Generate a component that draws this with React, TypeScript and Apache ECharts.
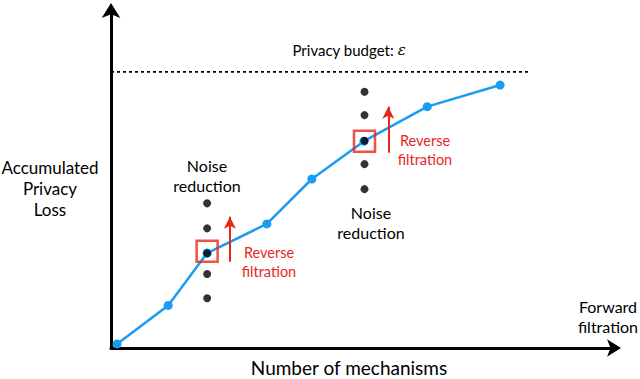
import React, { useEffect, useRef } from "react";
import * as echarts from "echarts";

// Curve of accumulated privacy loss vs number of mechanisms (abstract units 0..100)
const mechanisms = [1.2, 11.3, 19.0, 30.8, 39.7, 50.0, 62.5, 76.9];
const privacyLoss = [1.2, 12.6, 28.1, 36.7, 50.0, 61.2, 71.4, 77.8];

// Privacy budget line
const budgetLevel = 81.7;
const budgetEnd = 82.8;

// Noise-reduction dot columns
const leftNoiseX = 19.0;
const leftNoiseY = [42.8, 35.4, 28.0, 21.9, 14.7];
const rightNoiseX = 50.1;
const rightNoiseY = [75.8, 68.9, 61.3, 54.4, 47.0];

// Highlighted (boxed) points
const boxedX = [19.0, 50.1];
const boxedY = [28.6, 61.2];

// Reverse-filtration arrows: x, start y, tip y
const arrowX = [23.5, 54.8];
const arrowFrom = [25.5, 57.8];
const arrowTo = [38.8, 71.4];

const BLUE = "#1c9cf0";
const RED = "#e9261c";
const FONT = "Lato";

export default function App() {
  const ref = useRef<HTMLDivElement>(null);
  useEffect(() => {
    if (!ref.current) return;
    const chart = echarts.init(ref.current, null, { renderer: "svg" });
    const noiseDots: number[][] = [
      ...leftNoiseY.map((y) => [leftNoiseX, y]),
      ...rightNoiseY.map((y) => [rightNoiseX, y]),
    ];
    const textStyle = (extra: any) => ({
      fontFamily: FONT,
      fontSize: 16,
      fill: "#000",
      textAlign: "center",
      textVerticalAlign: "middle",
      lineHeight: 20,
      ...extra,
    });
    chart.setOption({
      animation: false,
      grid: { left: 111, top: 10, width: 506, height: 338 },
      xAxis: {
        type: "value",
        min: 0,
        max: 100,
        axisLine: {
          show: true,
          onZero: false,
          symbol: ["none", "arrow"],
          symbolSize: [13, 14],
          symbolOffset: [0, 4],
          lineStyle: { color: "#000", width: 3 },
        },
        axisTick: { show: false },
        axisLabel: { show: false },
        splitLine: { show: false },
      },
      yAxis: {
        type: "value",
        min: 0,
        max: 100,
        axisLine: {
          show: true,
          onZero: false,
          symbol: ["none", "arrow"],
          symbolSize: [14, 15],
          symbolOffset: [0, 7],
          lineStyle: { color: "#000", width: 3 },
        },
        axisTick: { show: false },
        axisLabel: { show: false },
        splitLine: { show: false },
      },
      series: [
        {
          type: "line",
          data: [
            [0, budgetLevel],
            [budgetEnd, budgetLevel],
          ],
          symbol: "none",
          lineStyle: { color: "#000", width: 1.6, type: [3, 3] },
          z: 1,
        },
        {
          type: "line",
          data: mechanisms.map((x, i) => [x, privacyLoss[i]]),
          symbol: "circle",
          symbolSize: 9,
          showAllSymbol: true,
          itemStyle: { color: BLUE },
          lineStyle: { color: BLUE, width: 2.5 },
          z: 2,
        },
        {
          type: "scatter",
          data: noiseDots,
          symbol: "circle",
          symbolSize: 8,
          itemStyle: { color: "#000" },
          z: 3,
        },
        {
          type: "scatter",
          data: boxedX.map((x, i) => [x, boxedY[i]]),
          symbol: "rect",
          symbolSize: 21,
          itemStyle: { color: "rgba(0,0,0,0)", borderColor: RED, borderWidth: 2.5 },
          z: 4,
          markLine: {
            silent: true,
            symbol: ["none", "arrow"],
            symbolSize: [9, 12],
            label: { show: false },
            lineStyle: { color: RED, width: 2, type: "solid" },
            data: arrowX.map((x, i) => [
              { coord: [x, arrowFrom[i]] },
              { coord: [x, arrowTo[i]] },
            ]),
          },
        },
      ],
      graphic: [
        {
          type: "text",
          style: {
            x: 349,
            y: 50,
            text: "{a|Privacy budget: }{e|ε}",
            textAlign: "center",
            textVerticalAlign: "middle",
            rich: {
              a: { fontFamily: FONT, fontSize: 15, fill: "#000" },
              e: { fontFamily: "DejaVu Serif", fontStyle: "italic", fontSize: 15, fill: "#000" },
            },
          },
        },
        { type: "text", style: textStyle({ x: 50, y: 188, text: "Accumulated\nPrivacy\nLoss", fontSize: 17, lineHeight: 21 }) },
        { type: "text", style: textStyle({ x: 207, y: 175, text: "Noise\nreduction" }) },
        { type: "text", style: textStyle({ x: 371, y: 222, text: "Noise\nreduction" }) },
        { type: "text", style: textStyle({ x: 269, y: 262, text: "Reverse\nfiltration", fill: RED, fontSize: 14.5, lineHeight: 19 }) },
        { type: "text", style: textStyle({ x: 425, y: 150, text: "Reverse\nfiltration", fill: RED, fontSize: 14.5, lineHeight: 19 }) },
        { type: "text", style: textStyle({ x: 608, y: 316, text: "Forward\nfiltration", fontSize: 16 }) },
        { type: "text", style: textStyle({ x: 349, y: 367, text: "Number of mechanisms", fontSize: 19 }) },
      ],
    });
    return () => chart.dispose();
  }, []);
  return (
    <div
      ref={ref}
      style={{ position: "fixed", left: 0, top: 0, width: 640, height: 379, background: "#fff" }}
    />
  );
}
